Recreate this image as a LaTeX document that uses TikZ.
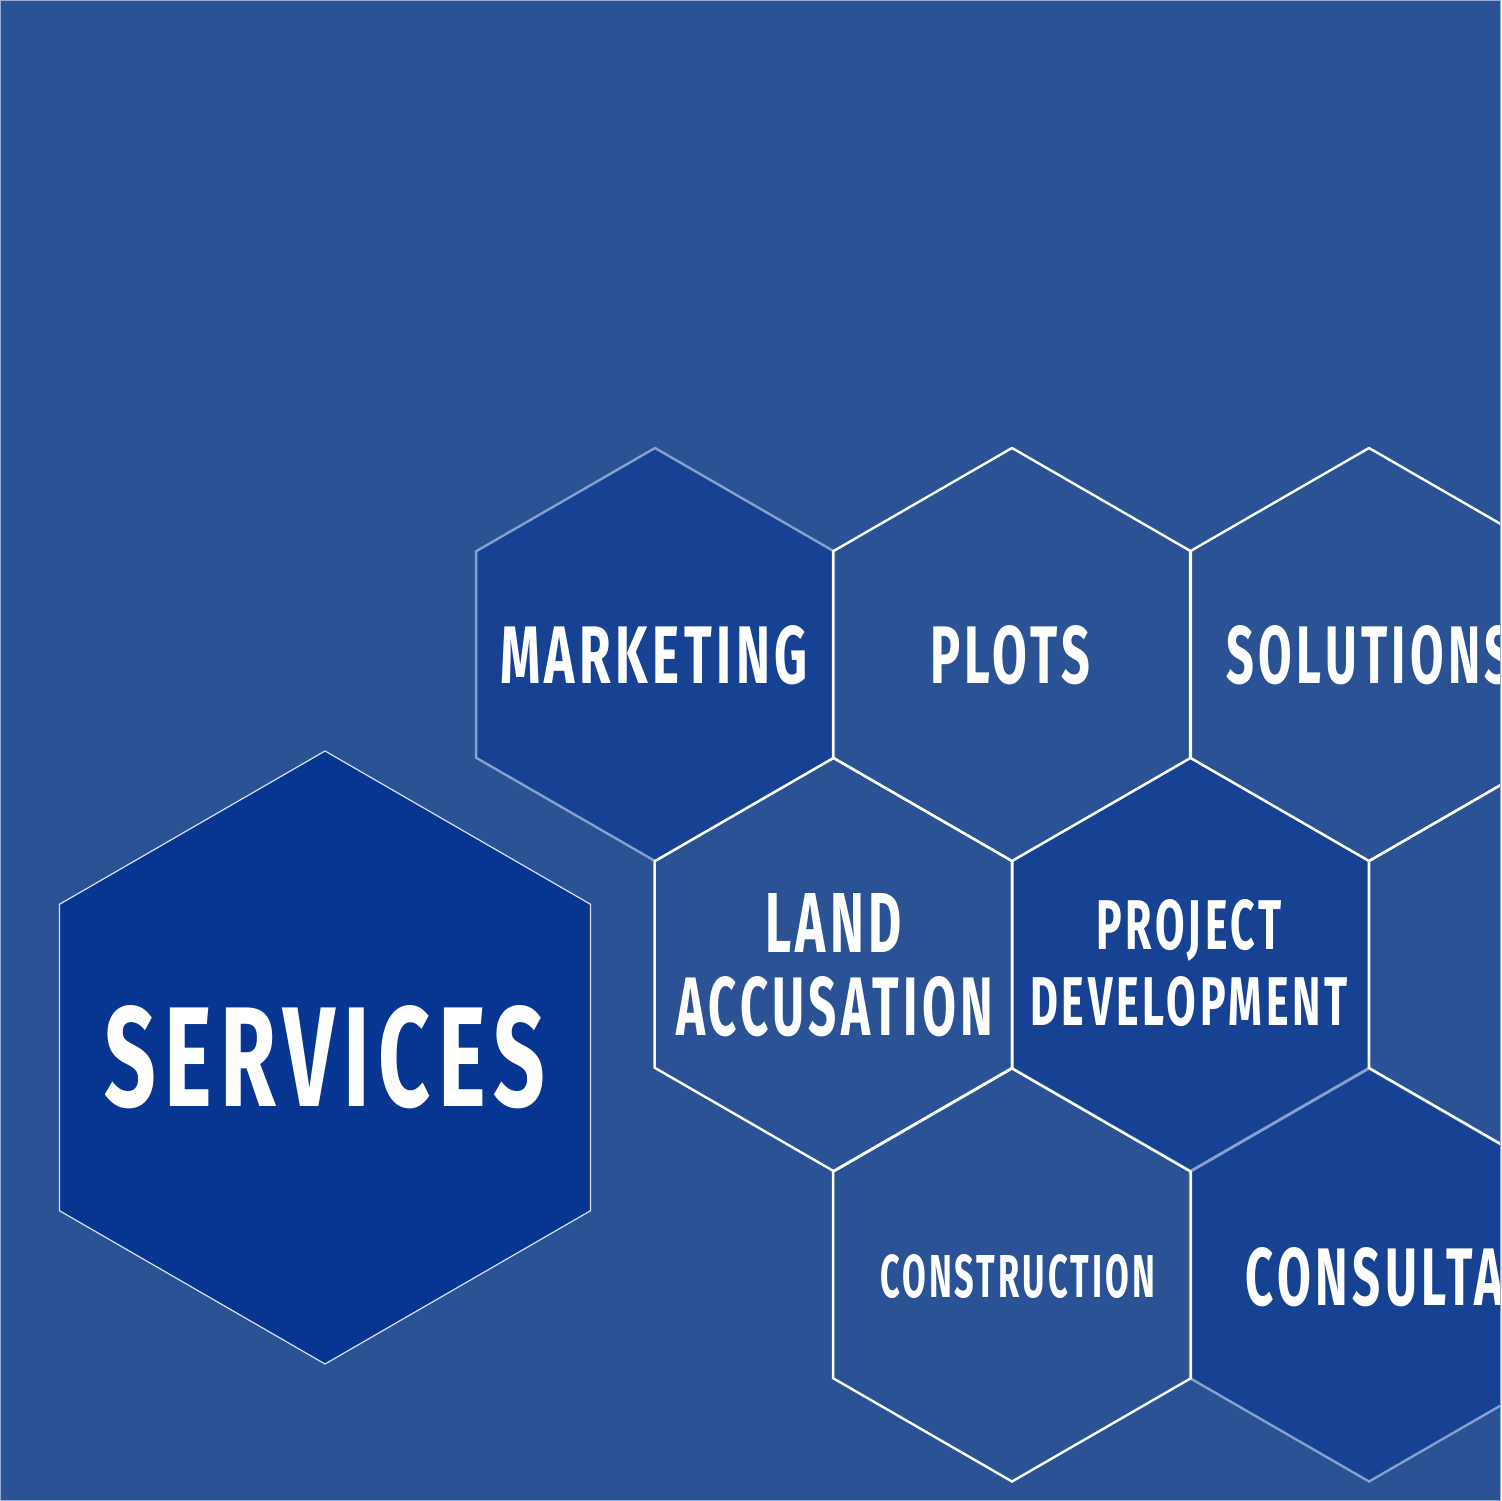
\documentclass[tikz,border=0pt]{standalone}
\usepackage{fontspec}
\setmainfont{Fira Sans}
\newfontfamily\hexfont[LetterSpace=9]{Fira Sans}
\usepackage{graphicx}
\usetikzlibrary{shapes.geometric}
\definecolor{slate}{RGB}{42,82,148}
\definecolor{royal}{RGB}{23,65,147}
\definecolor{deep}{RGB}{6,54,145}
\definecolor{haze}{RGB}{135,160,205}
\definecolor{rim}{RGB}{150,172,212}
\newcommand{\hexword}[3]{\resizebox{#1}{#2}{\hexfont\bfseries #3}}
\tikzset{
  cell/.style={regular polygon,regular polygon sides=6,shape border rotate=30,
    minimum size=41.3mm,inner sep=0pt,outer sep=0pt,line width=0.24mm,draw=white},
  solid cell/.style={cell,fill=#1,draw=haze},
  solid cell/.default=royal,
  word/.style={text=white,inner sep=0pt},
}

\begin{document}
\begin{tikzpicture}[x=0.1mm,y=-0.1mm]
  \useasboundingbox (0,0) rectangle (1501,1501);
  \fill[slate] (0,0) rectangle (1501,1501);
  \clip (0,0) rectangle (1501,1501);
  % big hexagon on the left
  \node[cell,minimum size=61.3mm,fill=deep,draw=white!85!deep,line width=0.12mm] (srv) at (325,1057.5) {};
  % filled cells first, open cells on top of them
  \node[solid cell] (mkt) at (655,654.5) {};
  \node[solid cell] (prj) at (1190.5,964.5) {};
  \node[solid cell] (cns) at (1369,1275) {};
  \node[cell] (plt) at (1012,654.5) {};
  \node[cell] (sol) at (1369,654.5) {};
  \node[cell] (lnd) at (833.5,964.5) {};
  \node[cell] (nxt) at (1547.5,964.5) {};
  \node[cell] (cst) at (1012,1275) {};
  % labels
  \node[word] (t-srv) at (325,1057.5) {\hexword{44.0mm}{10.1mm}{SERVICES}};
  \node[word] (t-mkt) at (654,655) {\hexword{30.8mm}{5.8mm}{MARKETING}};
  \node[word] (t-plt) at (1010,655) {\hexword{16.0mm}{5.8mm}{PLOTS}};
  \node[word,anchor=west] (t-sol) at (1226,655) {\hexword{28.6mm}{5.8mm}{SOLUTIONS}};
  \node[word] (t-lnd) at (833.5,922.5) {\hexword{13.7mm}{5.9mm}{LAND}};
  \node[word] (t-acc) at (834.5,1006.5) {\hexword{31.7mm}{5.9mm}{ACCUSATION}};
  \node[word] (t-prj) at (1189,930) {\hexword{18.6mm}{5.0mm}{PROJECT}};
  \node[word] (t-dev) at (1189,1001.5) {\hexword{31.8mm}{4.9mm}{DEVELOPMENT}};
  \node[word] (t-cst) at (1017.5,1276.5) {\hexword{27.5mm}{4.3mm}{CONSTRUCTION}};
  \node[word,anchor=west] (t-cns) at (1245,1277) {\hexword{36.0mm}{5.8mm}{CONSULTANCY}};
  % thin frame
  \draw[rim,line width=0.1mm] (0.5,0.5) rectangle (1500.5,1500.5);
\end{tikzpicture}
\end{document}
